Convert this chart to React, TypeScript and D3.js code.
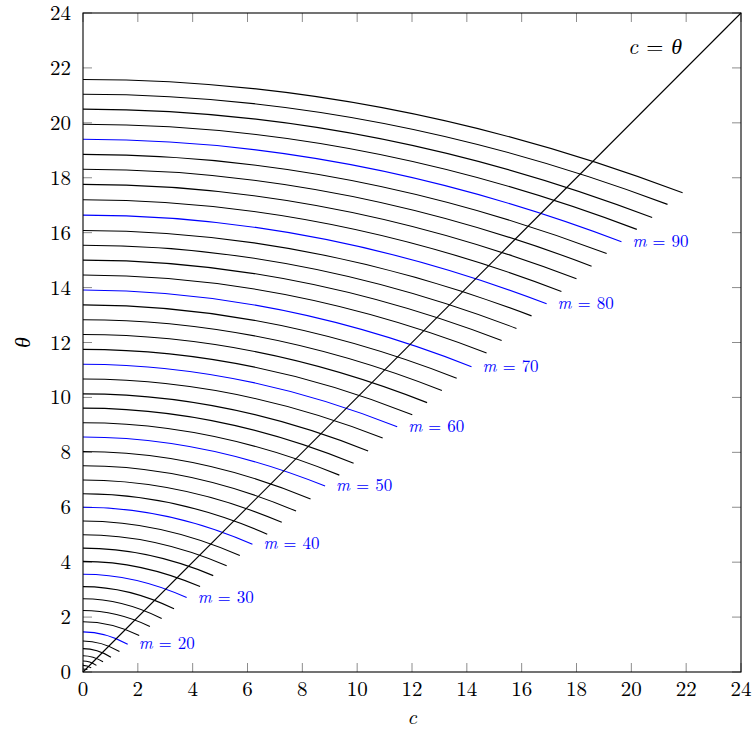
import React from 'react';
import * as d3 from 'd3';

// Curve parameter m (one curve per even value)
const mValues = [8, 10, 12, 14, 16, 18, 20, 22, 24, 26, 28, 30, 32, 34, 36, 38, 40, 42, 44, 46, 48, 50, 52, 54, 56, 58, 60, 62, 64, 66, 68, 70, 72, 74, 76, 78, 80, 82, 84, 86, 88, 90, 92, 94, 96, 98];
// theta at c = 0
const theta0 = [0.11, 0.24, 0.40, 0.59, 0.85, 1.13, 1.46, 1.83, 2.24, 2.67, 3.11, 3.56, 4.03, 4.51, 5.00, 5.50, 6.00, 6.49, 6.99, 7.51, 8.03, 8.56, 9.08, 9.61, 10.13, 10.67, 11.21, 11.75, 12.29, 12.83, 13.37, 13.91, 14.46, 15.00, 15.54, 16.08, 16.64, 17.20, 17.76, 18.31, 18.85, 19.40, 19.95, 20.50, 21.04, 21.58];
// c at the end of each curve
const cEnd = [0.16, 0.30, 0.49, 0.73, 1.02, 1.33, 1.63, 2.05, 2.44, 2.87, 3.32, 3.78, 4.27, 4.75, 5.24, 5.72, 6.18, 6.72, 7.25, 7.77, 8.30, 8.83, 9.35, 9.87, 10.40, 10.93, 11.46, 12.01, 12.55, 13.09, 13.63, 14.17, 14.72, 15.27, 15.81, 16.36, 16.91, 17.45, 18.00, 18.55, 19.10, 19.64, 20.20, 20.76, 21.32, 21.87];
// theta at the end of each curve
const thetaEnd = [0.09, 0.15, 0.24, 0.37, 0.54, 0.75, 1.01, 1.33, 1.66, 1.95, 2.30, 2.71, 3.11, 3.51, 3.87, 4.24, 4.65, 5.02, 5.45, 5.86, 6.30, 6.77, 7.17, 7.60, 8.05, 8.52, 8.93, 9.37, 9.81, 10.25, 10.70, 11.12, 11.62, 12.07, 12.51, 12.97, 13.41, 13.86, 14.32, 14.78, 15.24, 15.67, 16.12, 16.55, 17.03, 17.45];

const labeledM = [20, 30, 40, 50, 60, 70, 80, 90];
const xTicks = [0, 2, 4, 6, 8, 10, 12, 14, 16, 18, 20, 22, 24];
const yTicks = [0, 2, 4, 6, 8, 10, 12, 14, 16, 18, 20, 22, 24];
const diagonal = [0, 24];

const W = 755;
const H = 729;
const FONT = "'Latin Modern Roman', 'CMU Serif', 'Liberation Serif', serif";

export default function App() {
  const left = 83, right = 741, top = 13, bottom = 672;
  const x = d3.scaleLinear().domain([0, 24]).range([left, right]);
  const y = d3.scaleLinear().domain([0, 24]).range([bottom, top]);

  const curves = mValues.map((m, i) => {
    const p = d3.path();
    p.moveTo(x(0), y(theta0[i]));
    p.quadraticCurveTo(x(cEnd[i] / 2), y(theta0[i]), x(cEnd[i]), y(thetaEnd[i]));
    return { m, d: p.toString(), blue: labeledM.includes(m), ex: x(cEnd[i]), ey: y(thetaEnd[i]) };
  });

  const diagLine = d3.line<number>().x((v) => x(v)).y((v) => y(v))(diagonal) || '';
  const tl = 9;

  return (
    <svg width={W} height={H} style={{ position: 'absolute', left: 0, top: 0, background: '#fff' }} fontFamily={FONT}>
      {/* ticks */}
      {xTicks.map((t) => (
        <g key={'xt' + t} stroke="#8c8c8c" strokeWidth={1}>
          <line x1={x(t)} x2={x(t)} y1={bottom} y2={bottom - tl} />
          <line x1={x(t)} x2={x(t)} y1={top} y2={top + tl} />
        </g>
      ))}
      {yTicks.map((t) => (
        <g key={'yt' + t} stroke="#8c8c8c" strokeWidth={1}>
          <line x1={left} x2={left + tl} y1={y(t)} y2={y(t)} />
          <line x1={right} x2={right - tl} y1={y(t)} y2={y(t)} />
        </g>
      ))}
      {/* curves */}
      {curves.map((c) => (
        <path key={c.m} d={c.d} fill="none" stroke={c.blue ? '#0000ff' : '#000'} strokeWidth={1.1} />
      ))}
      {/* diagonal */}
      <path d={diagLine} fill="none" stroke="#000" strokeWidth={1.1} />
      {/* labels */}
      {curves.filter((c) => c.blue).map((c) => (
        <text key={'l' + c.m} x={c.ex + 11} y={c.ey + 5} fill="#0000ff" fontSize={17}>
          <tspan fontStyle="italic">m</tspan>
          <tspan dx={6}>=</tspan>
          <tspan dx={6}>{c.m}</tspan>
        </text>
      ))}
      <text x={628} y={54} fontSize={22}>
        <tspan fontStyle="italic">c</tspan>
        <tspan dx={8}>=</tspan>
        <tspan dx={8} fontStyle="italic">θ</tspan>
      </text>
      {/* frame */}
      <rect x={left} y={top} width={right - left} height={bottom - top} fill="none" stroke="#000" strokeWidth={1.1} />
      {/* tick labels */}
      {xTicks.map((t) => (
        <text key={'xl' + t} x={x(t)} y={bottom + 24} textAnchor="middle" fontSize={21}>{t}</text>
      ))}
      {yTicks.map((t) => (
        <text key={'yl' + t} x={left - 12} y={y(t) + 7} textAnchor="end" fontSize={21}>{t}</text>
      ))}
      {/* axis titles */}
      <text x={x(12)} y={724} textAnchor="middle" fontSize={21} fontStyle="italic">c</text>
      <text x={24} y={y(12)} textAnchor="middle" fontSize={22} fontStyle="italic" transform={`rotate(-90, 24, ${y(12)})`} dy={6}>θ</text>
    </svg>
  );
}
